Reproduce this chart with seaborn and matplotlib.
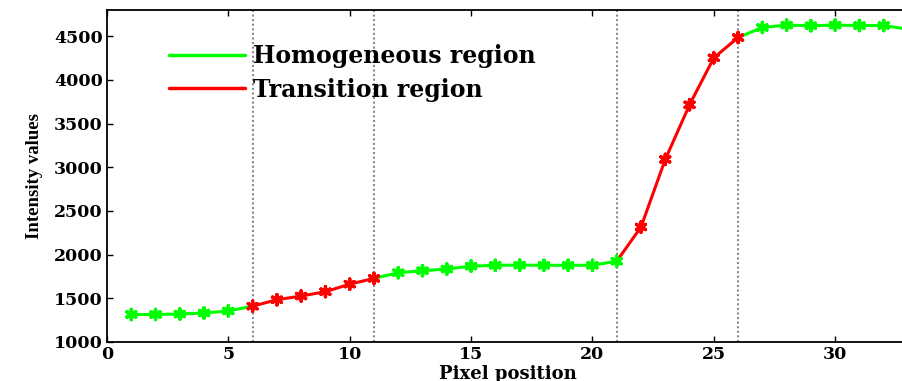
import numpy as np
import pandas as pd
import matplotlib
matplotlib.use("Agg")
import matplotlib.pyplot as plt
import seaborn as sns

# ---- data ----
pixel = list(range(1, 34))
intensity = [1315, 1315, 1320, 1332, 1355, 1410, 1484, 1526, 1576, 1662, 1728,
             1793, 1816, 1835, 1868, 1878, 1880, 1878, 1878, 1878, 1925,
             2316, 3090, 3715, 4253, 4485,
             4600, 4627, 4620, 4627, 4622, 4622, 4580]
# line segments (start pixel, end pixel, region)
segments = [(1, 6, "Homogeneous region"), (6, 11, "Transition region"),
            (11, 21, "Homogeneous region"), (21, 26, "Transition region"),
            (26, 33, "Homogeneous region")]
# marker region for each pixel
transition_markers = list(range(6, 12)) + list(range(22, 27))
boundaries = [6, 11, 21, 26]
x_ticks = [0, 5, 10, 15, 20, 25, 30]
y_ticks = [1000, 1500, 2000, 2500, 3000, 3500, 4000, 4500]

palette = {"Homogeneous region": "#00ff00", "Transition region": "#ff0000"}

rows = []
for sid, (a, b, reg) in enumerate(segments):
    for p in range(a, b + 1):
        rows.append({"pixel": p, "intensity": intensity[p - 1],
                     "region": reg, "segment": sid})
line_df = pd.DataFrame(rows)
mark_df = pd.DataFrame({
    "pixel": pixel, "intensity": intensity,
    "region": ["Transition region" if p in transition_markers else "Homogeneous region"
               for p in pixel]})

sns.set_style("ticks")
plt.rcParams["font.family"] = ["DejaVu Serif"]
plt.rcParams["text.color"] = "black"
plt.rcParams["axes.labelcolor"] = "black"
plt.rcParams["xtick.color"] = "black"
plt.rcParams["ytick.color"] = "black"
plt.rcParams["axes.edgecolor"] = "black"

fig = plt.figure(figsize=(9.03, 3.81), dpi=100)
ax = fig.add_axes([107 / 903, 39 / 381, 801 / 903, 332 / 381])

for bx in boundaries:
    ax.axvline(bx, color="#8a8a8a", ls=(0, (1, 1.2)), lw=1.5, zorder=1)

sns.lineplot(data=line_df, x="pixel", y="intensity", hue="region", units="segment",
             estimator=None, palette=palette, lw=2.2, ax=ax, zorder=2,
             hue_order=["Homogeneous region", "Transition region"])
sns.scatterplot(data=mark_df, x="pixel", y="intensity", hue="region", palette=palette,
                marker=(6, 2, 0), s=55, linewidth=2.4, legend=False, ax=ax, zorder=3)

ax.set_xlim(0, 33)
ax.set_ylim(1000, 4800)
ax.set_xticks(x_ticks)
ax.set_yticks(y_ticks)
ax.tick_params(direction="in", top=True, right=True, length=4, width=1,
               labelsize=12.5, pad=3)
for lab in ax.get_xticklabels() + ax.get_yticklabels():
    lab.set_fontweight("bold")
for sp in ax.spines.values():
    sp.set_linewidth(1.3)

ax.set_xlabel("Pixel position", fontsize=13, fontweight="bold", labelpad=1)
ax.set_ylabel("Intensity values", fontsize=13.5, family=["Liberation Serif"],
              fontweight="bold", labelpad=8)

leg = ax.legend(loc="upper left", bbox_to_anchor=(0.078, 0.897), frameon=False,
                prop={"family": "DejaVu Serif", "weight": "bold", "size": 17},
                handlelength=3.2, handletextpad=0.35, labelspacing=0.4,
                borderpad=0, borderaxespad=0)
for h in leg.get_lines():
    h.set_linewidth(2.5)

fig.savefig("out.png", dpi=100)
